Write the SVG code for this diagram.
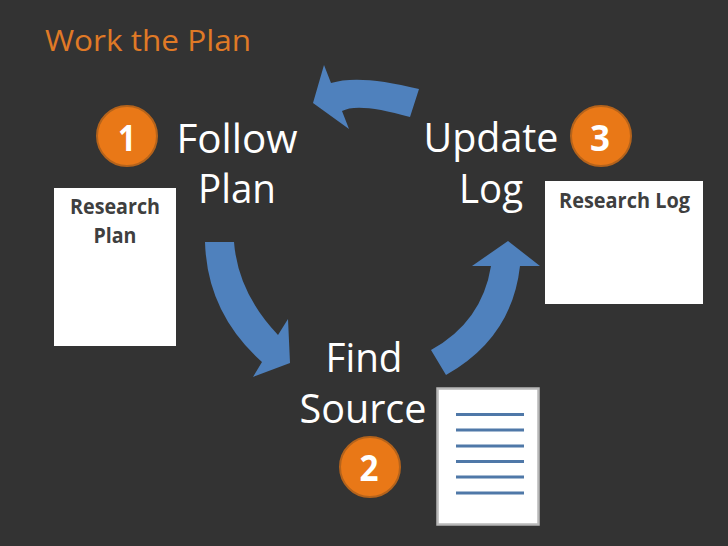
<svg xmlns="http://www.w3.org/2000/svg" width="728" height="546" viewBox="0 0 728 546">
<style>
.lbl{font-family:"Open Sans","Noto Sans",sans-serif;font-size:40px;fill:#fff;text-anchor:middle}
.num{font-family:"Open Sans","Noto Sans",sans-serif;font-size:35px;font-weight:700;fill:#fff;text-anchor:middle}
.doc{font-family:"Open Sans","Noto Sans",sans-serif;font-size:21px;font-weight:700;fill:#3f3f3f;text-anchor:middle}
.badge{fill:#e97817;stroke:#b5631b;stroke-width:2}
.arrow{fill:#4f81bd}
.page{fill:#fff}
.rule{stroke:#4f78a8;stroke-width:3}
</style>
<rect width="728" height="546" fill="#333333"/>
<text x="45" y="51" font-family="Open Sans,Noto Sans,sans-serif" font-size="30" fill="#e07a26" textLength="206" lengthAdjust="spacingAndGlyphs">Work the Plan</text>
<g id="connectors">
<path class="arrow" d="M205 242L234 242Q238 293 278 335L288 319L290 363L253 377L262 362Q207 313 205 242Z"/>
<path class="arrow" d="M431 350L446 375Q512 338 520 266L540 266L508 241L472 266L491 266Q482 322 431 350Z"/>
<path class="arrow" d="M419 89L410 117Q358 102 342 111L349 129L313 103L324 65L331 83Q359 74 419 89Z"/>
</g>
<g id="follow-plan">
<circle class="badge" cx="127" cy="136" r="30"/>
<text class="num" x="127" y="151" textLength="18" lengthAdjust="spacingAndGlyphs">1</text>
<text class="lbl" x="237" y="153" textLength="121" lengthAdjust="spacingAndGlyphs">Follow</text>
<text class="lbl" x="237" y="203" textLength="78" lengthAdjust="spacingAndGlyphs">Plan</text>
</g>
<g id="research-plan">
<rect class="page" x="54" y="188" width="122" height="158"/>
<text class="doc" x="115" y="214" textLength="90" lengthAdjust="spacingAndGlyphs">Research</text>
<text class="doc" x="115" y="243" textLength="43" lengthAdjust="spacingAndGlyphs">Plan</text>
</g>
<g id="find-source">
<text class="lbl" x="364" y="372" textLength="77" lengthAdjust="spacingAndGlyphs">Find</text>
<text class="lbl" x="363" y="423" textLength="127" lengthAdjust="spacingAndGlyphs">Source</text>
<circle class="badge" cx="370" cy="467" r="30"/>
<text class="num" x="369" y="481" textLength="19" lengthAdjust="spacingAndGlyphs">2</text>
</g>
<g id="source-doc">
<rect class="page" x="437.500" y="388.500" width="101" height="136" stroke="#b8b8b8" stroke-width="2.500"/>
<path class="rule" d="M456 414.500H524M456 430H524M456 446H524M456 461.500H524M456 477H524M456 493H524"/>
</g>
<g id="update-log">
<text class="lbl" x="491" y="152" textLength="135" lengthAdjust="spacingAndGlyphs">Update</text>
<text class="lbl" x="491" y="203" textLength="64" lengthAdjust="spacingAndGlyphs">Log</text>
<circle class="badge" cx="601" cy="136" r="30"/>
<text class="num" x="600" y="151" textLength="20" lengthAdjust="spacingAndGlyphs">3</text>
</g>
<g id="research-log">
<rect class="page" x="545" y="181" width="158" height="123"/>
<text class="doc" x="624.500" y="208" textLength="131" lengthAdjust="spacingAndGlyphs">Research Log</text>
</g>
</svg>
